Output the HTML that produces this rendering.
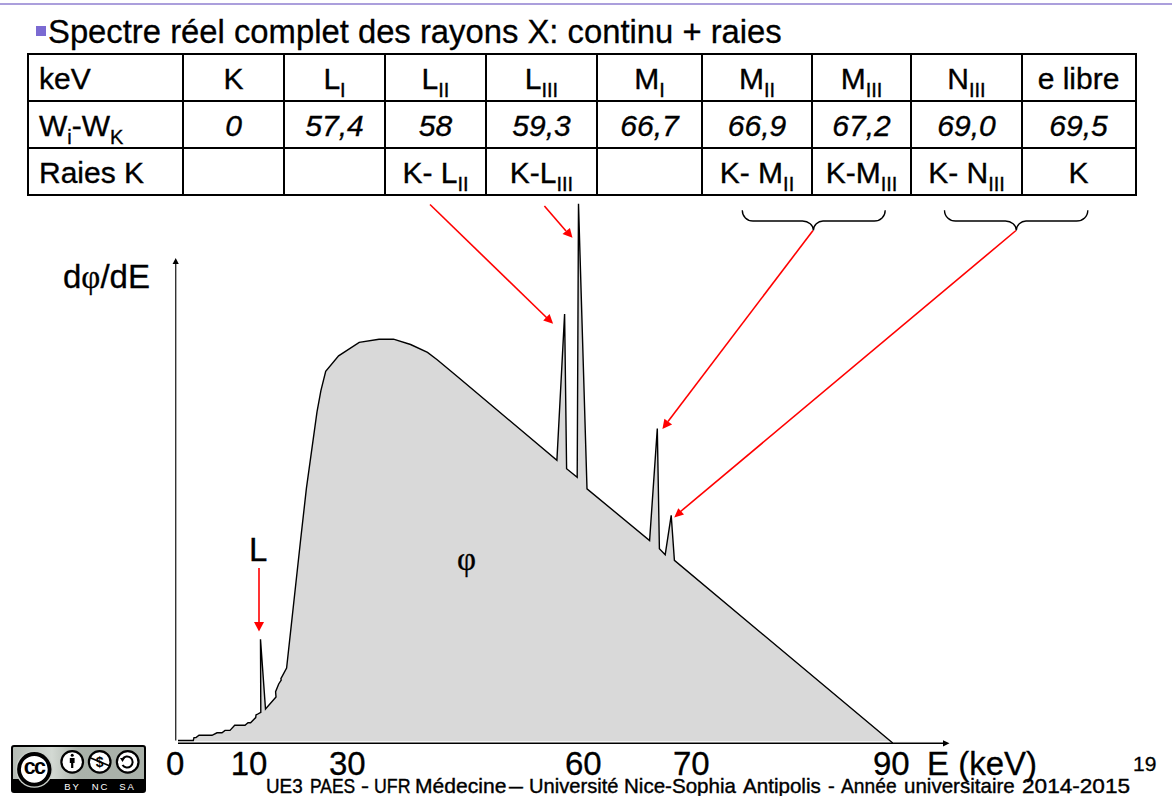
<!DOCTYPE html>
<html><head><meta charset="utf-8">
<style>
html,body{margin:0;padding:0;background:#fff;}
body{width:1172px;height:796px;position:relative;overflow:hidden;font-family:"Liberation Sans",sans-serif;color:#000;-webkit-text-stroke:0.3px #000;}
svg{-webkit-text-stroke:0;}
.a{position:absolute;white-space:nowrap;}
.t29{font-size:30px;line-height:32px;-webkit-text-stroke:0.35px #000;}
.c{text-align:center;}
.sub{font-size:20px;position:relative;top:8px;}
.it{font-style:italic;}
.hl{position:absolute;background:#000;height:2px;left:27px;width:1110px;}
.ft{position:absolute;white-space:nowrap;top:774px;font-size:21px;line-height:24px;transform-origin:0 0;-webkit-text-stroke:0.4px #000;}
.vl{position:absolute;background:#000;width:2px;top:53px;height:143px;}
</style></head><body>
<div class="a" style="left:0;top:3px;width:1172px;height:2px;background:#ab9fdc;"></div>
<div class="a" style="left:36px;top:26px;width:10px;height:10px;background:#7b6ad2;"></div>
<div class="a" style="left:48px;top:12.5px;font-size:32.8px;line-height:37px;">Spectre réel complet des rayons X: continu + raies</div>

<!-- table lines -->
<div class="hl" style="top:53px;"></div>
<div class="hl" style="top:100px;"></div>
<div class="hl" style="top:147px;"></div>
<div class="hl" style="top:194px;"></div>
<div class="vl" style="left:27px;"></div>
<div class="vl" style="left:182px;"></div>
<div class="vl" style="left:283px;"></div>
<div class="vl" style="left:384px;"></div>
<div class="vl" style="left:485px;"></div>
<div class="vl" style="left:596px;"></div>
<div class="vl" style="left:701px;"></div>
<div class="vl" style="left:811px;"></div>
<div class="vl" style="left:910px;"></div>
<div class="vl" style="left:1021px;"></div>
<div class="vl" style="left:1135px;"></div>

<!-- row 1 -->
<div class="a t29" style="left:39px;top:63px;">keV</div>
<div class="a t29 c" style="left:183px;width:101px;top:63px;">K</div>
<div class="a t29 c" style="left:284px;width:101px;top:63px;">L<span class="sub">I</span></div>
<div class="a t29 c" style="left:385px;width:101px;top:63px;">L<span class="sub">II</span></div>
<div class="a t29 c" style="left:486px;width:111px;top:63px;">L<span class="sub">III</span></div>
<div class="a t29 c" style="left:597px;width:105px;top:63px;">M<span class="sub">I</span></div>
<div class="a t29 c" style="left:702px;width:110px;top:63px;">M<span class="sub">II</span></div>
<div class="a t29 c" style="left:812px;width:99px;top:63px;">M<span class="sub">III</span></div>
<div class="a t29 c" style="left:911px;width:111px;top:63px;">N<span class="sub">III</span></div>
<div class="a t29 c" style="left:1022px;width:113px;top:63px;">e libre</div>
<!-- row 2 -->
<div class="a t29" style="left:39px;top:110px;">W<span class="sub">i</span>-W<span class="sub">K</span></div>
<div class="a t29 c it" style="left:183px;width:101px;top:110px;">0</div>
<div class="a t29 c it" style="left:284px;width:101px;top:110px;">57,4</div>
<div class="a t29 c it" style="left:385px;width:101px;top:110px;">58</div>
<div class="a t29 c it" style="left:486px;width:111px;top:110px;">59,3</div>
<div class="a t29 c it" style="left:597px;width:105px;top:110px;">66,7</div>
<div class="a t29 c it" style="left:702px;width:110px;top:110px;">66,9</div>
<div class="a t29 c it" style="left:812px;width:99px;top:110px;">67,2</div>
<div class="a t29 c it" style="left:911px;width:111px;top:110px;">69,0</div>
<div class="a t29 c it" style="left:1022px;width:113px;top:110px;">69,5</div>
<!-- row 3 -->
<div class="a t29" style="left:39px;top:157px;">Raies K</div>
<div class="a t29 c" style="left:385px;width:101px;top:157px;">K- L<span class="sub">II</span></div>
<div class="a t29 c" style="left:486px;width:111px;top:157px;">K-L<span class="sub">III</span></div>
<div class="a t29 c" style="left:702px;width:110px;top:157px;">K- M<span class="sub">II</span></div>
<div class="a t29 c" style="left:812px;width:99px;top:157px;">K-M<span class="sub">III</span></div>
<div class="a t29 c" style="left:911px;width:111px;top:157px;">K- N<span class="sub">III</span></div>
<div class="a t29 c" style="left:1022px;width:113px;top:157px;">K</div>

<!-- chart -->
<svg class="a" style="left:0;top:0;" width="1172" height="796" viewBox="0 0 1172 796">
  <path d="M178 741 L178 740.5 L193.3 740.5 L194 737.6 L196 737.6 L199 735.3 L212 735.3 L217 732.8 L222 732.8 L225 730.4 L230 730.4 L234.7 725.3 L245 725.3 L248 722.8 L250.6 722.8 L255.7 717.6 L256 715 L257 714.5 L260.8 712.3 L260.5 639.3 L265.5 709 L276 697 L275.6 691.7 L278.7 684 L281.2 680 L280.9 678.6 L286.6 668 L300.6 540 L306.4 488.4 L317 411.8 L320.9 390.7 L325.7 371.4 L338.6 355.9 L359.2 342.4 L379 339.2 L393.5 339.2 L410.6 344.5 L427.5 352.4 L437.2 359.7 L460 378.8 L556.9 460.2 L564.6 314.1 L566.6 468.7 L577.2 477.3 L578.5 203.8 L587 488.8 L649.6 540.6 L657.3 428.6 L659.4 548.7 L665.2 554.7 L671.2 515.3 L674.4 560.4 L891.5 741.3 L178 741.3 Z" fill="#d9d9d9" stroke="none"/>
  <path d="M178 740.5 L193.3 740.5 L194 737.6 L196 737.6 L199 735.3 L212 735.3 L217 732.8 L222 732.8 L225 730.4 L230 730.4 L234.7 725.3 L245 725.3 L248 722.8 L250.6 722.8 L255.7 717.6 L256 715 L257 714.5 L260.8 712.3 L260.5 639.3 L265.5 709 L276 697 L275.6 691.7 L278.7 684 L281.2 680 L280.9 678.6 L286.6 668 L300.6 540 L306.4 488.4 L317 411.8 L320.9 390.7 L325.7 371.4 L338.6 355.9 L359.2 342.4 L379 339.2 L393.5 339.2 L410.6 344.5 L427.5 352.4 L437.2 359.7 L460 378.8 L556.9 460.2 L564.6 314.1 L566.6 468.7 L577.2 477.3 L578.5 203.8 L587 488.8 L649.6 540.6 L657.3 428.6 L659.4 548.7 L665.2 554.7 L671.2 515.3 L674.4 560.4 L892.7 743" fill="none" stroke="#000" stroke-width="1.4" stroke-linejoin="miter" stroke-miterlimit="4"/>
  <!-- axes -->
  <line x1="175.7" y1="740.5" x2="175.7" y2="263" stroke="#333" stroke-width="1.4"/>
  <polygon points="172.6,264 178.8,264 175.7,258" fill="#000"/>
  <line x1="178" y1="743.3" x2="944" y2="743.3" stroke="#000" stroke-width="1.6"/>
  <polygon points="943,740.2 943,746.4 949.5,743.3" fill="#000"/>
  <!-- braces -->
  <path d="M742.3 210.2 C742.3 216.5 747 221 753 221 L802.5 221 C808.5 221 813.4 225 813.4 230.5 C813.4 225 818 221 823 221 L874.3 221 C880.5 221 885.2 216.5 885.2 210.2" fill="none" stroke="#000" stroke-width="1.35"/>
  <path d="M944.5 210.2 C944.5 216.5 949.5 221 955.5 221 L1005.4 221 C1011.5 221 1016.3 225 1016.3 230.5 C1016.3 225 1021 221 1026 221 L1076.5 221 C1083 221 1087.8 216.5 1087.8 210.2" fill="none" stroke="#000" stroke-width="1.35"/>
  <!-- red arrows -->
  <g stroke="#ff0000" stroke-width="1.6" fill="none">
    <line x1="259" y1="568" x2="259" y2="623"/>
    <line x1="430" y1="204.5" x2="547" y2="318"/>
    <line x1="544.4" y1="205.9" x2="566" y2="231"/>
    <line x1="813" y1="230.5" x2="668" y2="421.5"/>
    <line x1="1016" y1="230.5" x2="680" y2="512"/>
  </g>
  <g fill="#ff0000">
    <polygon points="254,622 264,622 259,631.5"/>
    <polygon points="543.2,320.5 549.6,314.1 553.1,323.8"/>
    <polygon points="562.5,234 569.9,228 572.5,237.7"/>
    <polygon points="664.4,418.7 672.1,424.5 662.4,429.1"/>
    <polygon points="678.3,508.2 684,514.6 674.2,517.5"/>
  </g>
</svg>

<!-- chart labels -->
<div class="a" style="left:63px;top:258px;font-size:33px;line-height:37px;">d<span style="font-family:'Liberation Serif',serif;">φ</span>/dE</div>
<div class="a" style="left:249px;top:531px;font-size:33px;line-height:37px;">L</div>
<div class="a" style="left:457px;top:541px;font-size:33px;line-height:37px;font-family:'Liberation Serif',serif;">φ</div>
<div class="a" style="left:166px;top:745px;font-size:33px;line-height:37px;">0</div>
<div class="a" style="left:230.7px;top:745px;font-size:33px;line-height:37px;">10</div>
<div class="a" style="left:329px;top:745px;font-size:33px;line-height:37px;">30</div>
<div class="a" style="left:565px;top:745px;font-size:33px;line-height:37px;">60</div>
<div class="a" style="left:673px;top:745px;font-size:33px;line-height:37px;">70</div>
<div class="a" style="left:873px;top:745px;font-size:33px;line-height:37px;">90</div>
<div class="a" style="left:927px;top:745px;font-size:33px;line-height:37px;">E (keV)</div>
<div class="a" style="left:1133px;top:752px;font-size:21px;line-height:23px;">19</div>
<div class="ft" style="left:265.71px;transform:scaleX(0.8974);">UE3</div>
<div class="ft" style="left:309.64px;transform:scaleX(0.8288);">PAES</div>
<div class="ft" style="left:360.76px;transform:scaleX(1.14);">-</div>
<div class="ft" style="left:374.31px;transform:scaleX(0.845);">UFR</div>
<div class="ft" style="left:415.29px;transform:scaleX(1.0034);">Médecine</div>
<div class="ft" style="left:509.3px;transform:scaleX(1.1917);">–</div>
<div class="ft" style="left:528.88px;transform:scaleX(0.9582);">Université</div>
<div class="ft" style="left:623.94px;transform:scaleX(0.9788);">Nice-Sophia</div>
<div class="ft" style="left:743.2px;transform:scaleX(0.9797);">Antipolis</div>
<div class="ft" style="left:828.04px;transform:scaleX(0.96);">-</div>
<div class="ft" style="left:841.0px;transform:scaleX(0.915);">Année</div>
<div class="ft" style="left:904.12px;transform:scaleX(0.9784);">universitaire</div>
<div class="ft" style="left:1021.82px;transform:scaleX(1.0758);">2014-2015</div>

<!-- CC badge -->
<svg class="a" style="left:0;top:735px;" width="160" height="61" viewBox="0 735 160 61">
  <defs><linearGradient id="gb" x1="12" y1="0" x2="145" y2="0" gradientUnits="userSpaceOnUse"><stop offset="0" stop-color="#b3bab3"/><stop offset="0.3" stop-color="#d3d9d3"/><stop offset="0.5" stop-color="#aab2aa"/><stop offset="1" stop-color="#a8b0a8"/></linearGradient></defs><rect x="12" y="746" width="133" height="46" rx="2" fill="url(#gb)" stroke="#000" stroke-width="2"/>
  <path d="M54 779 L144 779 L144 791 L13 791 L13 779 Z" fill="#000"/>
  <circle cx="34.3" cy="769.3" r="18.5" fill="#c9cfc9"/>
  <circle cx="34.3" cy="769.3" r="15.3" fill="#fff" stroke="#000" stroke-width="3.8"/>
  <text x="34.1" y="774.1" font-family="Liberation Sans" font-weight="bold" font-size="21.5" text-anchor="middle" letter-spacing="-1.6">cc</text>
  <circle cx="72.2" cy="761.9" r="10.8" fill="#fff" stroke="#000" stroke-width="2.2"/>
  <circle cx="99.7" cy="761.9" r="10.8" fill="#fff" stroke="#000" stroke-width="2.2"/>
  <circle cx="127.7" cy="761.9" r="10.8" fill="#fff" stroke="#000" stroke-width="2.2"/>
  <circle cx="72.2" cy="755.2" r="1.5" fill="#000"/>
  <path d="M69.8 758 L74.6 758 L74.6 763 L73.3 763 L73.3 768 L71.1 768 L71.1 763 L69.8 763 Z" fill="#000"/>
  <text x="99.7" y="767" font-family="Liberation Sans" font-weight="bold" font-size="14" text-anchor="middle">$</text>
  <line x1="89.5" y1="757.5" x2="110" y2="766" stroke="#000" stroke-width="1.6"/>
  <path d="M122.5 759 A5.5 5.5 0 1 1 122.5 765" fill="none" stroke="#000" stroke-width="2"/>
  <polygon points="120,758 125,758 122.5,762" fill="#000"/>
  <text x="72.5" y="789.5" font-family="Liberation Sans" font-size="9.5" fill="#fff" text-anchor="middle" letter-spacing="1.8">BY</text>
  <text x="100.5" y="789.5" font-family="Liberation Sans" font-size="9.5" fill="#fff" text-anchor="middle" letter-spacing="1.8">NC</text>
  <text x="127.5" y="789.5" font-family="Liberation Sans" font-size="9.5" fill="#fff" text-anchor="middle" letter-spacing="1.8">SA</text>
</svg>
</body></html>
